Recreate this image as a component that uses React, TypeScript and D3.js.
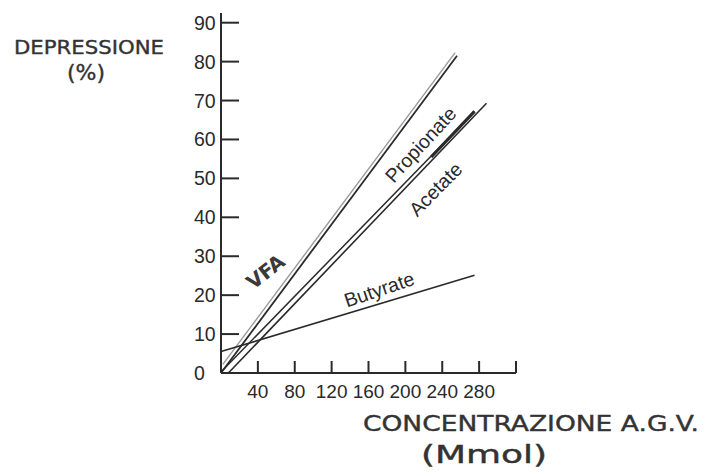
import React from "react";
import * as d3 from "d3";

// ---- data ----
const xTicks = [40, 80, 120, 160, 200, 240, 280, 320];
const xTickLabels = ["40", "80", "120", "160", "200", "240", "280", ""];
const yTicks = [0, 10, 20, 30, 40, 50, 60, 70, 80, 90];
const yTickLabels = ["0", "10", "20", "30", "40", "50", "60", "70", "80", "90"];

const propionate: [number, number][] = [[0, 0], [256, 81.5]];
const vfa: [number, number][] = [[2, 2.2], [254, 82.3]];
const acetate: [number, number][] = [[8, 0], [288, 69.3]];
const acetateUpper: [number, number][] = [[1, 0.5], [275, 67.2]];
const acetatePen: [number, number][] = [[228, 55.5], [275, 67.2]];
const butyrate: [number, number][] = [[0, 5.5], [275, 25.1]];

const yTitle = ["DEPRESSIONE", "(%)"];
const xTitle = ["CONCENTRAZIONE A.G.V.", "(Mmol)"];

export default function App() {
  const x = d3.scaleLinear().domain([0, 320]).range([221, 516]);
  const y = d3.scaleLinear().domain([0, 90]).range([373, 22.7]);
  const line = d3
    .line<[number, number]>()
    .x((d) => x(d[0]))
    .y((d) => y(d[1]));

  const ink = "#2a2a2a";
  const hand = "'DejaVu Sans', sans-serif";
  const print = "'Liberation Sans', Arial, sans-serif";

  const angleOf = (s: [number, number][]) => {
    const dx = x(s[1][0]) - x(s[0][0]);
    const dy = y(s[1][1]) - y(s[0][1]);
    return (Math.atan2(dy, dx) * 180) / Math.PI;
  };

  return (
    <svg
      width={711}
      height={473}
      style={{ position: "absolute", left: 0, top: 0, background: "#fff" }}
    >
      {/* axes */}
      <line x1={x(0)} x2={x(0)} y1={13} y2={y(0)} stroke={ink} strokeWidth={2} />
      <line x1={x(0)} x2={x(320)} y1={y(0)} y2={y(0)} stroke={ink} strokeWidth={2} />
      {yTicks.map((t, i) => (
        <g key={"y" + t}>
          {t > 0 && (
            <line x1={x(0)} x2={x(0) + 18} y1={y(t)} y2={y(t)} stroke={ink} strokeWidth={2} />
          )}
          <text
            x={194}
            y={y(t)}
            dy="0.36em"
            fontFamily={print}
            fontSize={19.5}
            fill={ink}
          >
            {yTickLabels[i]}
          </text>
        </g>
      ))}
      {xTicks.map((t, i) => (
        <g key={"x" + t}>
          <line x1={x(t)} x2={x(t)} y1={y(0)} y2={y(0) - 12} stroke={ink} strokeWidth={2} />
          <text
            x={x(t)}
            y={391}
            dy="0.36em"
            textAnchor="middle"
            fontFamily={print}
            fontSize={19}
            fill={ink}
          >
            {xTickLabels[i]}
          </text>
        </g>
      ))}

      {/* series */}
      <path d={line(vfa) || ""} stroke="#9a9a9a" strokeWidth={1.4} fill="none" />
      <path d={line(propionate) || ""} stroke={ink} strokeWidth={1.8} fill="none" />
      <path d={line(acetateUpper) || ""} stroke={ink} strokeWidth={1.5} fill="none" />
      <path d={line(acetate) || ""} stroke={ink} strokeWidth={1.6} fill="none" />
      <path d={line(acetatePen) || ""} stroke={ink} strokeWidth={3.2} fill="none" />
      <path d={line(butyrate) || ""} stroke={ink} strokeWidth={1.6} fill="none" />

      {/* series labels */}
      <text
        transform={`translate(${x(222)},${y(57.5)}) rotate(${angleOf(propionate) + 6})`}
        textAnchor="middle"
        fontFamily={print}
        fontSize={19.5}
        fill={ink}
      >
        Propionate
      </text>
      <text
        transform={`translate(${x(238)},${y(46)}) rotate(${angleOf(acetate) + 1})`}
        textAnchor="middle"
        fontFamily={print}
        fontSize={19.5}
        fill={ink}
      >
        Acetate
      </text>
      <text
        transform={`translate(${x(174)},${y(19.8)}) rotate(${angleOf(butyrate) - 2})`}
        textAnchor="middle"
        fontFamily={print}
        fontSize={19.5}
        fill={ink}
      >
        Butyrate
      </text>
      <text
        transform={`translate(${x(53)},${y(24.6)}) rotate(-38)`}
        textAnchor="middle"
        fontFamily={hand}
        fontSize={20}
        fontWeight="bold"
        fill="#3a3a3a"
      >
        VFA
      </text>

      {/* axis titles */}
      <text
        x={89}
        y={47}
        dy="0.36em"
        textAnchor="middle"
        fontFamily={hand}
        fontSize={20}
        textLength={150}
        lengthAdjust="spacingAndGlyphs"
        fill="#333"
        stroke="#333"
        strokeWidth={0.4}
      >
        {yTitle[0]}
      </text>
      <text
        x={86}
        y={72}
        dy="0.36em"
        textAnchor="middle"
        fontFamily={hand}
        fontSize={22}
        fill="#333"
        stroke="#333"
        strokeWidth={0.4}
      >
        {yTitle[1]}
      </text>
      <text
        x={531}
        y={423}
        dy="0.36em"
        textAnchor="middle"
        fontFamily={hand}
        fontSize={21}
        textLength={336}
        lengthAdjust="spacingAndGlyphs"
        fill="#333"
        stroke="#333"
        strokeWidth={0.4}
      >
        {xTitle[0]}
      </text>
      <text
        x={484}
        y={454}
        dy="0.36em"
        textAnchor="middle"
        fontFamily={hand}
        fontSize={24}
        textLength={126}
        lengthAdjust="spacingAndGlyphs"
        fill="#333"
        stroke="#333"
        strokeWidth={0.4}
      >
        {xTitle[1]}
      </text>
    </svg>
  );
}
